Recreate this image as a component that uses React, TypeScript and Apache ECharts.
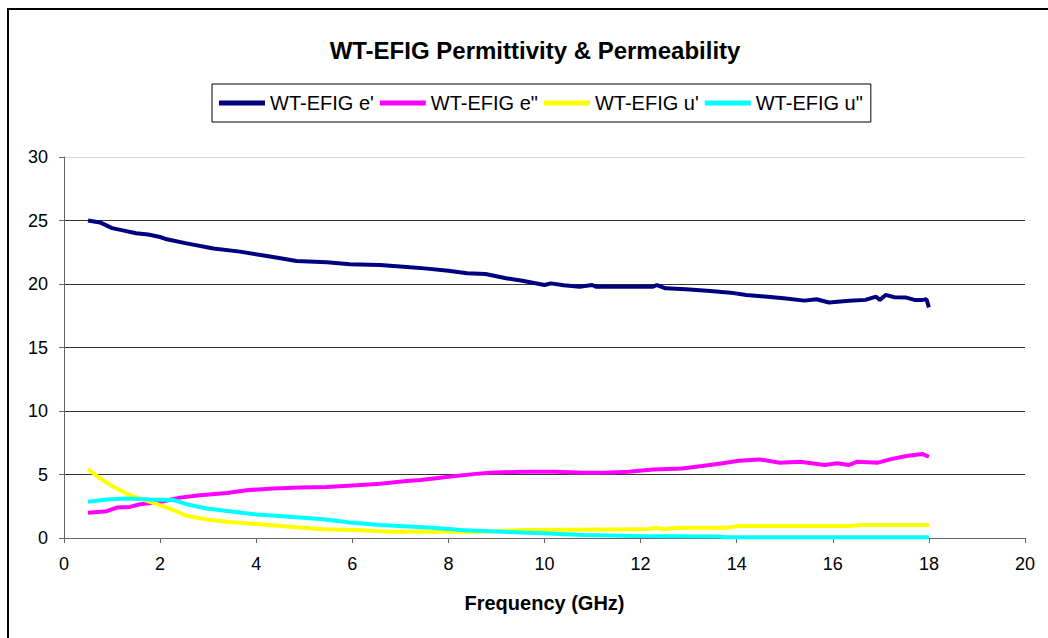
import React, { useEffect, useRef } from "react";
import * as echarts from "echarts";

const titleText = "WT-EFIG Permittivity & Permeability";
const xAxisName = "Frequency (GHz)";
const seriesNames = ["WT-EFIG e'", 'WT-EFIG e"', "WT-EFIG u'", 'WT-EFIG u"'];
const seriesColors = ["#000080", "#FF00FF", "#FFFF00", "#00FFFF"];

const ePrimeFreq = [0.5, 0.75, 1.0, 1.25, 1.5, 1.75, 2.0, 2.14, 2.55, 3.11, 3.66, 4.29, 4.84, 5.47, 5.95, 6.58, 7.2, 7.5, 8.0, 8.39, 8.77, 9.2, 9.54, 10.0, 10.13, 10.4, 10.73, 10.99, 11.07, 11.75, 12.26, 12.34, 12.52, 12.94, 13.45, 13.87, 14.2, 14.64, 14.98, 15.41, 15.66, 15.92, 16.34, 16.68, 16.9, 16.98, 17.1, 17.28, 17.53, 17.7, 17.87, 17.95, 18.0];
const ePrimeVal = [25.0, 24.85, 24.4, 24.2, 24.0, 23.9, 23.7, 23.52, 23.2, 22.8, 22.55, 22.16, 21.81, 21.71, 21.55, 21.5, 21.31, 21.23, 21.05, 20.84, 20.79, 20.45, 20.26, 19.92, 20.05, 19.9, 19.79, 19.92, 19.79, 19.79, 19.79, 19.92, 19.66, 19.58, 19.45, 19.32, 19.14, 19.0, 18.87, 18.69, 18.8, 18.54, 18.69, 18.75, 19.0, 18.75, 19.14, 18.96, 18.93, 18.75, 18.75, 18.8, 18.16];

const eDoubleFreq = [0.5, 0.89, 1.1, 1.37, 1.58, 2.0, 2.41, 2.83, 3.39, 3.8, 4.36, 4.91, 5.47, 6.09, 6.58, 7.13, 7.42, 7.83, 8.0, 8.52, 8.86, 9.54, 10.2, 10.82, 11.24, 11.75, 12.26, 12.86, 13.28, 13.71, 14.04, 14.47, 14.9, 15.32, 15.83, 16.09, 16.34, 16.51, 16.94, 17.19, 17.53, 17.87, 18.0];
const eDoubleVal = [1.99, 2.11, 2.4, 2.45, 2.66, 2.84, 3.18, 3.37, 3.55, 3.76, 3.9, 3.97, 4.02, 4.15, 4.28, 4.49, 4.56, 4.75, 4.82, 5.03, 5.14, 5.22, 5.22, 5.14, 5.14, 5.22, 5.4, 5.48, 5.67, 5.88, 6.08, 6.19, 5.93, 6.01, 5.75, 5.88, 5.75, 6.01, 5.93, 6.19, 6.45, 6.61, 6.4];

const uPrimeFreq = [0.5, 0.75, 1.03, 1.3, 1.58, 2.0, 2.28, 2.55, 2.97, 3.39, 4.01, 4.7, 5.4, 6.09, 6.78, 7.83, 8.69, 9.54, 12.09, 12.34, 12.5, 12.77, 13.79, 14.04, 16.34, 16.6, 18.0];
const uPrimeVal = [5.43, 4.69, 4.04, 3.5, 3.11, 2.59, 2.2, 1.75, 1.46, 1.28, 1.1, 0.89, 0.68, 0.63, 0.5, 0.5, 0.5, 0.63, 0.68, 0.81, 0.7, 0.81, 0.81, 0.94, 0.94, 1.02, 1.02];

const uDoubleFreq = [0.5, 0.89, 1.3, 1.79, 2.28, 2.55, 2.97, 3.52, 4.01, 4.7, 5.4, 5.95, 6.58, 7.27, 7.67, 8.26, 9.11, 9.96, 10.82, 11.84, 13.62, 13.79, 18.0];
const uDoubleVal = [2.86, 3.04, 3.11, 3.04, 2.99, 2.66, 2.32, 2.06, 1.85, 1.67, 1.48, 1.22, 1.02, 0.89, 0.81, 0.63, 0.5, 0.37, 0.24, 0.16, 0.11, 0.05, 0.05];

const xTicks = { min: 0, max: 20, interval: 2 };
const yTicks = { min: 0, max: 30, interval: 5 };

const pairs = (xs: number[], ys: number[]) => xs.map((x, i) => [x, ys[i]]);
const seriesData = [
  pairs(ePrimeFreq, ePrimeVal),
  pairs(eDoubleFreq, eDoubleVal),
  pairs(uPrimeFreq, uPrimeVal),
  pairs(uDoubleFreq, uDoubleVal),
];

const FONT = "Liberation Sans, Arial, sans-serif";

export default function App() {
  const ref = useRef<HTMLDivElement>(null);
  useEffect(() => {
    if (!ref.current) return;
    const chart = echarts.init(ref.current, undefined, { renderer: "svg" });
    chart.setOption({
      animation: false,
      backgroundColor: "#ffffff",
      textStyle: { fontFamily: FONT },
      title: {
        text: titleText,
        left: 530,
        textAlign: "center",
        top: 33,
        textStyle: { fontFamily: FONT, fontWeight: "bold", fontSize: 24, color: "#000" },
      },
      legend: {
        left: 212,
        top: 84,
        orient: "horizontal",
        icon: "rect",
        itemWidth: 46,
        itemHeight: 5,
        itemGap: 6,
        padding: [9, 8, 9, 7],
        borderColor: "#000",
        borderWidth: 1,
        textStyle: { fontFamily: FONT, fontSize: 20, color: "#000" },
        data: seriesNames,
      },
      graphic: [
        {
          type: "rect",
          shape: { x: 8, y: 9, width: 1200, height: 800 },
          style: { fill: "none", stroke: "#000", lineWidth: 2 },
          silent: true,
          z: 100,
        },
      ],
      grid: { left: 64, top: 157, right: 23, bottom: 100, containLabel: false },
      xAxis: {
        type: "value",
        min: xTicks.min,
        max: xTicks.max,
        interval: xTicks.interval,
        name: xAxisName,
        nameLocation: "middle",
        nameGap: 55,
        nameTextStyle: { fontFamily: FONT, fontWeight: "bold", fontSize: 20, color: "#000" },
        axisLine: { show: true, onZero: false, lineStyle: { color: "#666", width: 1 } },
        axisTick: { show: true, length: 5, lineStyle: { color: "#666" } },
        axisLabel: { margin: 17, fontFamily: FONT, fontSize: 18, color: "#000" },
        splitLine: { show: false },
      },
      yAxis: {
        type: "value",
        min: yTicks.min,
        max: yTicks.max,
        interval: yTicks.interval,
        axisLine: { show: true, lineStyle: { color: "#666", width: 1 } },
        axisTick: { show: true, length: 5, lineStyle: { color: "#666" } },
        axisLabel: { margin: 16, fontFamily: FONT, fontSize: 18, color: "#000" },
        splitLine: {
          show: true,
          lineStyle: { color: ["#333", "#333", "#333", "#333", "#333", "#333", "#d9d9d9"], width: 1 },
        },
      },
      series: seriesNames.map((name, i) => ({
        name,
        type: "line",
        data: seriesData[i],
        showSymbol: false,
        symbol: "none",
        smooth: false,
        color: seriesColors[i],
        lineStyle: { color: seriesColors[i], width: 4 },
      })),
    });
    return () => chart.dispose();
  }, []);
  return (
    <div
      ref={ref}
      style={{ position: "absolute", left: 0, top: 0, width: 1048, height: 638, background: "#fff" }}
    />
  );
}
